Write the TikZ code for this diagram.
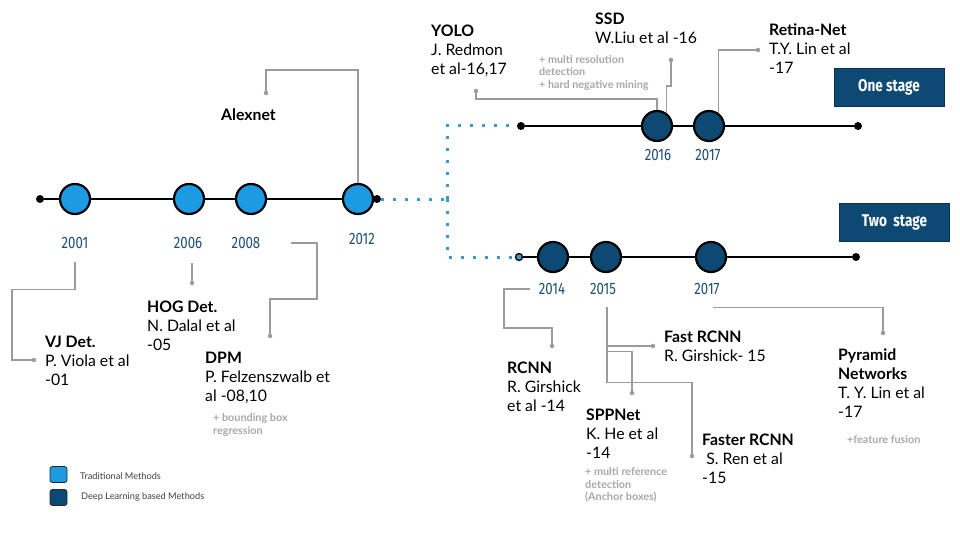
\documentclass[tikz,border=0pt]{standalone}
\usepackage{fontspec}
\setmainfont{Lato}
\newfontfamily\yearfont[FakeStretch=0.8]{Fira Sans}

\definecolor{tradblue}{HTML}{1D9BE2}
\definecolor{deepblue}{HTML}{0D4972}
\definecolor{yearblue}{HTML}{1E4E73}
\definecolor{linkgray}{HTML}{9B9B9B}
\definecolor{notegray}{HTML}{A8A8A8}
\definecolor{forkblue}{HTML}{3A9BD0}

\tikzset{
  trad/.style={circle,draw=black,line width=2.2pt,fill=tradblue,minimum size=30pt,inner sep=0pt},
  deep/.style={trad,fill=deepblue},
  enddot/.style={circle,fill=black,minimum size=8pt,inner sep=0pt},
  year/.style={inner sep=0pt,text=yearblue,font=\yearfont\fontsize{16.5}{16.5}\selectfont},
  ref/.style={anchor=base west,align=left,inner sep=0pt,font=\fontsize{15.8}{19}\selectfont},
  note/.style={anchor=base west,align=left,inner sep=0pt,text=notegray,font=\bfseries\fontsize{10.8}{12.5}\selectfont},
  link/.style={draw=linkgray,line width=1.1pt},
  tip/.style={circle,fill=linkgray,minimum size=4.5pt,inner sep=0pt},
  fork/.style={draw=forkblue,line width=3pt,dash pattern=on 3pt off 9pt},
  stage/.style={fill=deepblue,draw=deepblue!70!black,line width=.8pt,minimum width=110pt,minimum height=38pt,inner sep=0pt,text=white,font=\yearfont\bfseries\fontsize{17}{17}\selectfont},
  legend/.style={draw=black!85,line width=.8pt,rounded corners=2.5pt,minimum width=17pt,minimum height=16pt,inner sep=0pt},
  legendtext/.style={anchor=base west,inner sep=0pt,text=black!75,font=\fontsize{9.2}{9.2}\selectfont},
}

\begin{document}
\begin{tikzpicture}[x=1pt,y=-1pt]
\useasboundingbox (0,0) rectangle (960,540);
\fill[white] (0,0) rectangle (960,540);

\node[enddot] (lstart) at (40,199) {};
\node[enddot] (lend) at (377,199) {};
\draw[line width=2pt] (lstart) -- (lend);
\foreach \cx/\lx/\ly/\yr in {75/75/243/2001,189/188/243/2006,251/246/243/2008,358/362/239/2012}{
  \node[trad] (c\yr) at (\cx,199) {};
  \node[year] (y\yr) at (\lx,\ly) {\yr};
}

\node[enddot] (tstart) at (521,126) {};
\node[enddot] (tend) at (858,126) {};
\draw[line width=2pt] (tstart) -- (tend);
\foreach \cx/\lx/\yr/\nm in {657/658/2016/2016,709/708/2017/2017t}{
  \node[deep] (c\nm) at (\cx,126) {};
  \node[year] (y\nm) at (\lx,155) {\yr};
}

\node[enddot,fill=forkblue,draw=black,line width=1.3pt,minimum size=7pt] (bstart) at (519,257) {};
\node[enddot] (bend) at (856,257) {};
\draw[line width=2pt] (bstart) -- (bend);
\foreach \cx/\lx/\yr/\nm in {553/552/2014/2014,606/603/2015/2015,711/707/2017/2017b}{
  \node[deep] (c\nm) at (\cx,257) {};
  \node[year] (y\nm) at (\lx,289) {\yr};
}

\coordinate (fork) at (447,199);
\draw[fork] (lend) -- (fork);
\draw[fork] (fork) |- (tstart);
\draw[fork] (fork) |- (bstart);

\node[stage] (onestage) at (889,87) {One stage};
\node[stage] (twostage) at (894.5,222) {Two\ \ stage};

\node[ref] (vj) at (45,385) {\textbf{VJ Det.}\\P. Viola et al\\-01};
\node[ref] (hog) at (147,350) {\textbf{HOG Det.}\\N. Dalal et al\\-05};
\node[ref] (dpm) at (205,401) {\textbf{DPM}\\P. Felzenszwalb et\\al -08,10};
\node[note] (dpmnote) at (213,434) {+ bounding box\\regression};
\node[ref] (alexnet) at (221,120.5) {\textbf{Alexnet}};
\node[ref] (yolo) at (431,75) {\textbf{YOLO}\\J. Redmon\\et al-16,17};
\node[ref] (ssd) at (595,44) {\textbf{SSD}\\W.Liu et al -16};
\node[note] (ssdnote) at (539,88.5) {+ multi resolution\\detection\\+ hard negative mining};
\node[ref] (retina) at (769,74) {\textbf{Retina-Net}\\T.Y. Lin et al\\-17};
\node[ref] (rcnn) at (507,411) {\textbf{RCNN}\\R. Girshick\\et al -14};
\node[ref] (fastrcnn) at (664,361) {\textbf{Fast RCNN}\\R. Girshick- 15};
\node[ref] (sppnet) at (586,458) {\textbf{SPPNet}\\K. He et al\\-14};
\node[note] (sppnote) at (585,500.5) {+ multi reference\\detection\\(Anchor boxes)};
\node[ref] (faster) at (702,483.5) {\textbf{Faster RCNN}\\~S. Ren et al\\-15};
\node[ref] (fpn) at (838,417.5) {\textbf{Pyramid}\\\textbf{Networks}\\T. Y. Lin et al\\-17};
\node[note] (fpnnote) at (847,443.5) {+feature fusion};

\node[tip] (tvj) at (34,360) {};
\node[tip] (thog) at (192,283) {};
\node[tip] (tdpm) at (270,336) {};
\node[tip] (talex) at (266,93) {};
\node[tip] (tyolo) at (476,91) {};
\node[tip] (tssd) at (671,60) {};
\node[tip] (tret) at (758,50) {};
\node[tip] (trcnn) at (552,346) {};
\node[tip] (tfast) at (653,346) {};
\node[tip] (tspp) at (632,393) {};
\node[tip] (tfaster) at (692,456) {};
\node[tip] (tfpn) at (883,333) {};

\draw[link] ([yshift=-13pt]y2001.south) -- ++(0,28) -| (12,360) -- (tvj);
\draw[link] (thog) -- ++(0,-20);
\draw[link] ([xshift=31pt]y2008.east) -| (317,299) -| (tdpm);
\draw[link] (c2012.north) |- (266,70) -- (talex);
\draw[link] (tyolo) -- ++(0,8) -| (c2016.north);
\draw[link] (tssd) -- ++(0,26) -| (c2016.52);
\draw[link] (tret) -| (c2017t.52);
\draw[link] ([xshift=-9pt]y2014.west) -| (504,328) -| (trcnn);
\coordinate (trunk) at ([xshift=4pt,yshift=-12pt]y2015.south);
\draw[link] (trunk) -- ++(0,76) -| (tfaster);
\draw[link] (trunk |- tfast) -- (tfast);
\draw[link] (trunk) ++(0,45) -| (tspp);
\draw[link] ([xshift=6pt,yshift=-13pt]y2017b.south) -| (tfpn);

\node[legend,fill=tradblue] (legtrad) at (58.5,474.5) {};
\node[legend,fill=deepblue] (legdeep) at (58.5,497.5) {};
\node[legendtext] (legtradtext) at (80,479) {Traditional Methods};
\node[legendtext] (legdeeptext) at (81,499) {Deep Learning based Methods};

\end{tikzpicture}
\end{document}
